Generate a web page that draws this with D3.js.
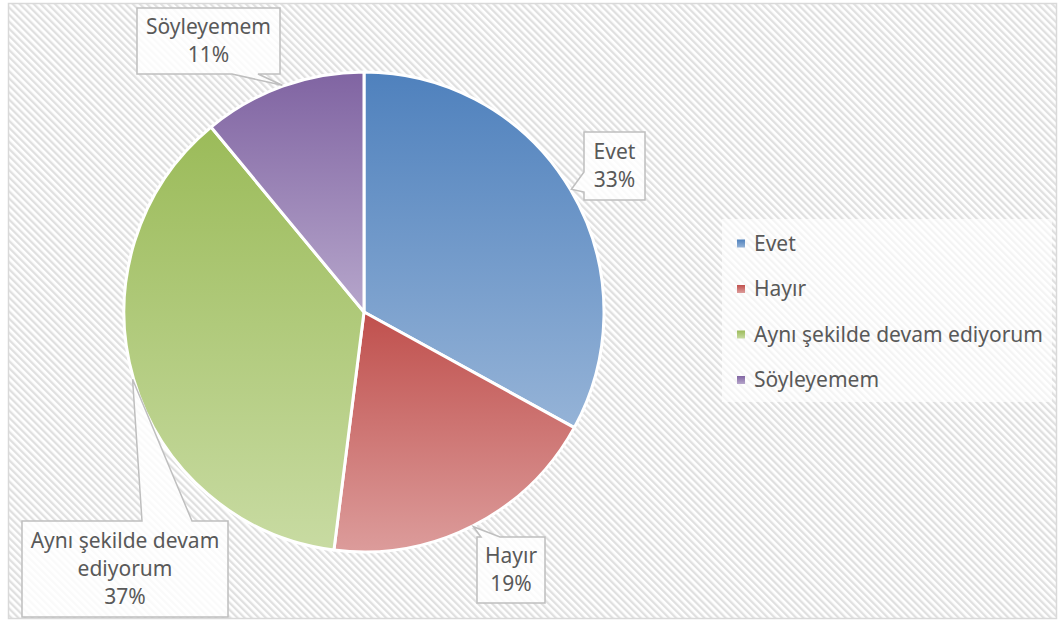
<!DOCTYPE html>
<html>
<head>
<meta charset="utf-8">
<script src="https://cdn.jsdelivr.net/npm/d3@7"></script>
<style>
  body { margin: 0; background: #fff; }
  svg text { font-family: "Noto Sans", "Liberation Sans", sans-serif; fill: #595959; }
</style>
</head>
<body>
<div id="chart"></div>
<script>
// data
const categories = ['Evet', 'Hayır', 'Aynı şekilde devam ediyorum', 'Söyleyemem'];
const values = [33, 19, 37, 11];
const percentLabels = ['33%', '19%', '37%', '11%'];
const calloutLines = [['Evet'], ['Hayır'], ['Aynı şekilde devam', 'ediyorum'], ['Söyleyemem']];

// slice colours, gradient top -> bottom
const colorsTop = ['#4f81bd', '#c0504d', '#9bbb59', '#8064a2'];
const colorsBottom = ['#95b3d7', '#dc9c9b', '#c8dba2', '#b6a6cb'];

// svg size
let svgWidth = 1060,
    svgHeight = 621;

let cx = 364, cy = 312, radius = 240;

// callout boxes (layout only): box, side of the pointer, base of the pointer along that side
let calloutBoxes = [
    { x: 584, y: 132, w: 61, h: 68, side: 'left', b0: 172, b1: 192 },
    { x: 477, y: 537, w: 68, h: 66, side: 'top', b0: 481, b1: 500 },
    { x: 22, y: 521, w: 206, h: 96, side: 'top', b0: 142, b1: 192 },
    { x: 137, y: 8, w: 143, h: 66, side: 'bottom', b0: 232, b1: 258 }
];

let svg = d3.select('#chart')
    .append('svg')
    .attr('width', svgWidth)
    .attr('height', svgHeight);

let defs = svg.append('defs');

// diagonal stripe background
let stripe = defs.append('pattern')
    .attr('id', 'stripes')
    .attr('patternUnits', 'userSpaceOnUse')
    .attr('width', 5)
    .attr('height', 5)
    .attr('patternTransform', 'rotate(-45)');
stripe.append('rect').attr('width', 5).attr('height', 5).attr('fill', '#ffffff');
stripe.append('rect').attr('width', 2.3).attr('height', 5).attr('fill', '#e0e0e0');

// gradients for slices
categories.forEach((c, i) => {
    let g = defs.append('linearGradient')
        .attr('id', 'grad' + i)
        .attr('x1', 0).attr('y1', 0).attr('x2', 0).attr('y2', 1);
    g.append('stop').attr('offset', '0%').attr('stop-color', colorsTop[i]);
    g.append('stop').attr('offset', '100%').attr('stop-color', colorsBottom[i]);
});

// chart area
svg.append('rect')
    .attr('x', 8.5).attr('y', 3.5)
    .attr('width', 1048).attr('height', 615)
    .attr('fill', 'url(#stripes)')
    .attr('stroke', '#d9d9d9')
    .attr('stroke-width', 1.5);

// legend background
svg.append('rect')
    .attr('x', 722).attr('y', 219)
    .attr('width', 330).attr('height', 183)
    .attr('fill', '#ffffff')
    .attr('opacity', 0.65);

let pie = d3.pie().sort(null).value(d => d);
let arcs = pie(values);

let arc = d3.arc().innerRadius(0).outerRadius(radius);
let tipArc = d3.arc().innerRadius(radius + 1).outerRadius(radius + 1);

let pieGroup = svg.append('g')
    .attr('transform', `translate(${cx}, ${cy})`);

pieGroup.selectAll('path')
    .data(arcs)
    .enter()
    .append('path')
    .attr('d', arc)
    .attr('fill', (d, i) => `url(#grad${i})`)
    .attr('stroke', '#ffffff')
    .attr('stroke-width', 3)
    .attr('stroke-linejoin', 'round');

// callouts
arcs.forEach((d, i) => {
    let b = calloutBoxes[i];
    let t = tipArc.centroid(d);
    let tx = cx + t[0], ty = cy + t[1];
    let x0 = b.x, y0 = b.y, x1 = b.x + b.w, y1 = b.y + b.h;
    let p = d3.path();
    p.moveTo(x0, y0);
    if (b.side === 'top') { p.lineTo(b.b0, y0); p.lineTo(tx, ty); p.lineTo(b.b1, y0); }
    p.lineTo(x1, y0);
    p.lineTo(x1, y1);
    if (b.side === 'bottom') { p.lineTo(b.b1, y1); p.lineTo(tx, ty); p.lineTo(b.b0, y1); }
    p.lineTo(x0, y1);
    if (b.side === 'left') { p.lineTo(x0, b.b1); p.lineTo(tx, ty); p.lineTo(x0, b.b0); }
    p.closePath();

    svg.append('path')
        .attr('d', p.toString())
        .attr('fill', '#ffffff')
        .attr('fill-opacity', 0.82)
        .attr('stroke', '#bfbfbf')
        .attr('stroke-width', 1.5)
        .attr('stroke-linejoin', 'miter');

    let lines = calloutLines[i].concat([percentLabels[i]]);
    let lh = 28;
    let first = b.y + (b.h - lines.length * lh) / 2 + 21;
    let txt = svg.append('text')
        .attr('text-anchor', 'middle')
        .style('font-size', '21px');
    lines.forEach((l, j) => {
        txt.append('tspan')
            .attr('x', b.x + b.w / 2)
            .attr('y', first + j * lh)
            .text(l);
    });
});

// legend
let legendY = d3.scalePoint()
    .domain(categories)
    .range([243.5, 380]);

let legend = svg.append('g');
categories.forEach((c, i) => {
    legend.append('rect')
        .attr('x', 737).attr('y', legendY(c) - 4)
        .attr('width', 8).attr('height', 8)
        .attr('fill', `url(#grad${i})`);
    legend.append('text')
        .attr('x', 754)
        .attr('y', legendY(c) + 7)
        .style('font-size', '21px')
        .text(c);
});
</script>
</body>
</html>
